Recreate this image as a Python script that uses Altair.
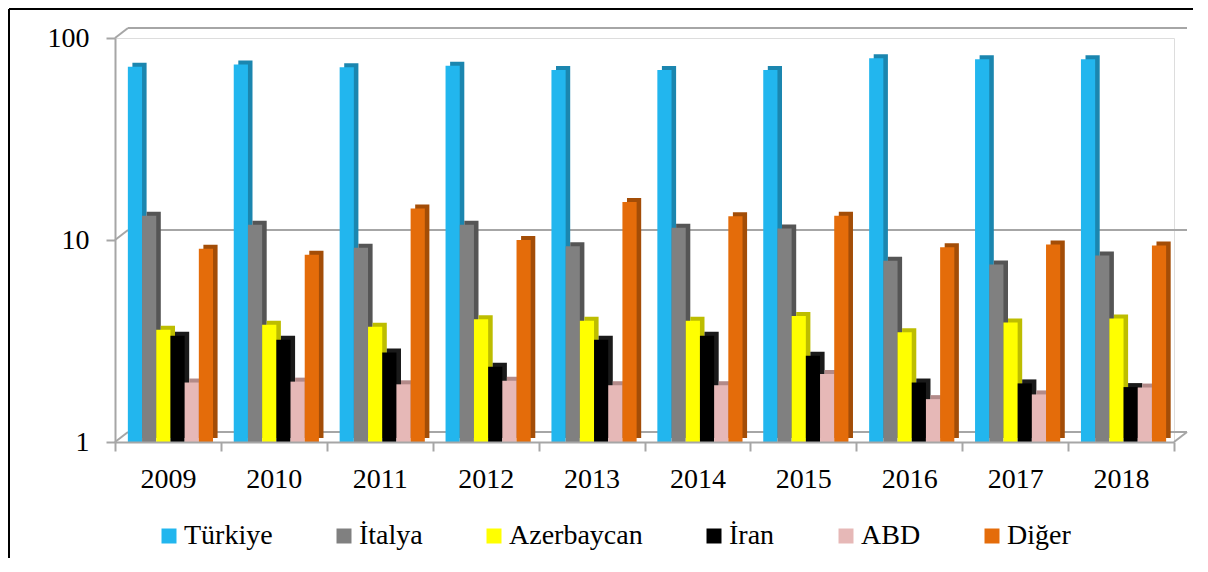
import altair as alt
import pandas as pd

years = ["2009", "2010", "2011", "2012", "2013", "2014", "2015", "2016", "2017", "2018"]
series = ["Türkiye", "İtalya", "Azerbaycan", "İran", "ABD", "Diğer"]

turkiye = [72.0, 74.0, 71.6, 72.9, 69.4, 69.4, 69.4, 79.3, 78.4, 78.4]
italya = [13.2, 11.9, 9.15, 11.9, 9.3, 11.5, 11.4, 7.9, 7.56, 8.38]
azerbaycan = [3.6, 3.81, 3.72, 4.05, 3.98, 3.98, 4.2, 3.49, 3.91, 4.09]
iran = [3.36, 3.21, 2.77, 2.36, 3.21, 3.36, 2.67, 1.97, 1.95, 1.87]
abd = [1.97, 1.99, 1.93, 2.01, 1.91, 1.91, 2.17, 1.63, 1.72, 1.86]
diger = [9.04, 8.45, 14.3, 10.0, 15.4, 13.1, 13.2, 9.2, 9.5, 9.4]

front_colors = ["#22B6EE", "#808080", "#FFFF00", "#000000", "#E6B8B7", "#E46C0A"]
side_colors = ["#1B86AF", "#555555", "#BDBD00", "#1A1A1A", "#B38A89", "#A34D07"]

values = [turkiye, italya, azerbaycan, iran, abd, diger]
rows = []
for i, yr in enumerate(years):
    for j, s in enumerate(series):
        rows.append({"year": yr, "series": s, "value": values[j][i]})
df = pd.DataFrame(rows)
grid = pd.DataFrame({"value": [1, 10, 100]})
corner = pd.DataFrame({"value": [1]})

W, H = 1059, 404
PL, PT = 107, 30
FONT = "Liberation Serif"
GRID = "#A6A6A6"

yscale = alt.Scale(type="log", domain=[1, 100])
xscale = alt.Scale(paddingInner=0, paddingOuter=0)

yaxis = alt.Axis(title=None, values=[1, 10, 100], format="d", grid=False,
                 tickSize=9, tickColor=GRID, tickWidth=2, domainColor=GRID,
                 domainWidth=2, labelFont=FONT, labelFontSize=28,
                 labelColor="black", labelPadding=17, zindex=1)
xaxis = alt.Axis(title=None, labelAngle=0, tickBand="extent", tickSize=9, grid=False,
                 tickColor=GRID, tickWidth=2, domainColor=GRID, domainWidth=2,
                 labelFont=FONT, labelFontSize=28, labelColor="black",
                 labelPadding=14, zindex=1)

xenc = alt.X("year:N", sort=years, scale=xscale, axis=xaxis)
yenc = alt.Y("value:Q", scale=yscale, axis=yaxis)

base = alt.Chart(df)

shadow = base.mark_bar(yOffset=-4, y2Offset=-4).encode(
    x=xenc,
    xOffset=alt.XOffset("series:N", sort=series,
                        scale=alt.Scale(domain=series, paddingInner=0,
                                        paddingOuter=0.73, align=0.84)),
    y=yenc, y2=alt.datum(1),
    color=alt.Color("series:N", sort=series,
                    scale=alt.Scale(domain=series, range=side_colors), legend=None),
)

front = base.mark_bar().encode(
    x=xenc,
    xOffset=alt.XOffset("series:N", sort=series,
                        scale=alt.Scale(domain=series, paddingInner=0,
                                        paddingOuter=0.73, align=0.62)),
    y=yenc, y2=alt.datum(1),
    color=alt.Color("series:N", sort=series,
                    scale=alt.Scale(domain=series, range=front_colors),
                    legend=alt.Legend(title=None, orient="none", legendX=40, legendY=484,
                                      direction="horizontal", columns=6,
                                      symbolType="square", symbolSize=225,
                                      symbolStrokeWidth=0, labelFont=FONT,
                                      labelFontSize=28, labelColor="black",
                                      labelOffset=1, columnPadding=57, padding=0)),
)

back_lines = alt.Chart(grid).mark_rule(yOffset=-10, color=GRID, strokeWidth=2).encode(
    y=alt.Y("value:Q", scale=yscale, axis=yaxis),
    x=alt.value(13), x2=alt.value(W + 13),
)
slants = alt.Chart(grid).mark_rule(y2Offset=-10, color=GRID, strokeWidth=2).encode(
    y=alt.Y("value:Q", scale=yscale, axis=yaxis), y2=alt.Y2("value"),
    x=alt.value(0), x2=alt.value(13),
)
corner_slant = alt.Chart(corner).mark_rule(y2Offset=-10, color=GRID, strokeWidth=2).encode(
    y=alt.Y("value:Q", scale=yscale, axis=yaxis), y2=alt.Y2("value"),
    x=alt.value(W), x2=alt.value(W + 13),
)

frame_top = alt.Chart(corner).mark_rule(color="black", strokeWidth=2).encode(
    x=alt.value(-PL + 1), x2=alt.value(W + 19), y=alt.value(-PT + 1),
)
frame_left = alt.Chart(corner).mark_rule(color="black", strokeWidth=2).encode(
    x=alt.value(-PL + 1), y=alt.value(-PT + 1), y2=alt.value(H + 130),
)

chart = alt.layer(
    back_lines, slants, corner_slant, shadow, front, frame_top, frame_left
).resolve_scale(color="independent", xOffset="independent").properties(
    width=W, height=H,
    autosize=alt.AutoSizeParams(type="none"),
    padding={"left": PL, "top": PT, "right": 20, "bottom": 116},
).configure_view(strokeWidth=0, stroke="transparent").configure(font=FONT).configure_legend(
    labelFont=FONT, labelFontSize=28
).configure_axis(labelFont=FONT)

chart.save("out.html", embed_options={"renderer": "svg", "actions": False})
